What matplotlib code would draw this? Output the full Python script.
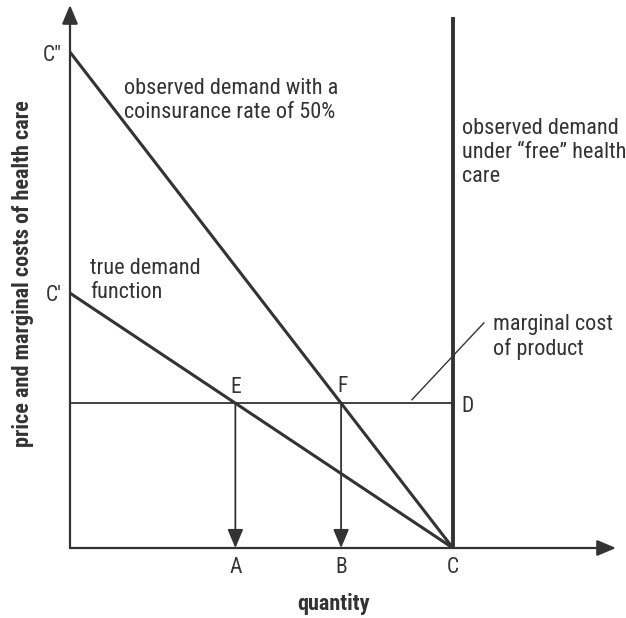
import matplotlib.pyplot as plt

plt.rcParams['font.family'] = ['Roboto Condensed', 'Archivo Narrow', 'Roboto', 'DejaVu Sans']

# price intercepts of the demand curves and the marginal cost level
p_true = 5.14        # C'
p_coins = 10.0       # C''
mc = 2.92            # marginal cost of product
q_free = 10.0        # C, quantity under "free" health care
x_max = 14.26
y_max = 10.95

# intersections with the marginal cost line
q_e = q_free * (1 - mc / p_true)
q_f = q_free * (1 - mc / p_coins)

ink = '#333333'

fig = plt.figure(figsize=(6.26, 6.18), dpi=100)
ax = fig.add_axes([70 / 626, 70 / 618, 546 / 626, 543 / 618])
ax.set_xlim(0, x_max)
ax.set_ylim(0, y_max)
ax.axis('off')

# axes with arrow heads
head = '-|>,head_length=0.95,head_width=0.4'
arrow = dict(arrowstyle=head, color=ink, lw=1.6, shrinkA=0, shrinkB=0, mutation_scale=12)
ax.annotate('', xy=(x_max, 0), xytext=(0, 0), arrowprops=arrow)
ax.annotate('', xy=(0, y_max), xytext=(0, 0), arrowprops=arrow)

# demand curves
ax.plot([0, q_free], [p_true, 0], color=ink, lw=2.2, solid_capstyle='butt')
ax.plot([0, q_free], [p_coins, 0], color=ink, lw=2.2, solid_capstyle='butt')
ax.plot([q_free, q_free], [0, 10.7], color=ink, lw=2.8, solid_capstyle='butt')

# marginal cost line
ax.plot([0, q_free], [mc, mc], color=ink, lw=1.3)

# drop arrows from E and F
arrow2 = dict(arrowstyle=head, color=ink, lw=1.3, shrinkA=0, shrinkB=0, mutation_scale=12)
ax.annotate('', xy=(q_e, 0), xytext=(q_e, mc), arrowprops=arrow2)
ax.annotate('', xy=(q_f, 0), xytext=(q_f, mc), arrowprops=arrow2)

# leader line for marginal cost label
ax.plot([8.93, 10.81], [2.99, 4.54], color=ink, lw=1.0)

fs = 15.5
ax.text(-0.21, p_coins - 0.07, 'C\u2033', ha='right', va='center', fontsize=fs, color=ink)
ax.text(-0.21, p_true - 0.05, 'C\u2032', ha='right', va='center', fontsize=fs, color=ink)
ax.text(q_e, 3.23, 'E', ha='center', va='center', fontsize=fs, color=ink)
ax.text(q_f + 0.05, 3.25, 'F', ha='center', va='center', fontsize=fs, color=ink)
ax.text(10.37, 2.86, 'D', ha='center', va='center', fontsize=fs, color=ink)
for q, lab in [(q_e, 'A'), (q_f, 'B'), (q_free, 'C')]:
    ax.text(q, -0.4, lab, ha='center', va='center', fontsize=fs, color=ink)

# multi-line labels, anchored at the baseline of their last line
fs2 = 16
ax.text(1.41, 8.67, 'observed demand with a\ncoinsurance rate of 50%', ha='left', va='baseline',
        fontsize=fs2, color=ink, linespacing=1.2)
ax.text(0.52, 5.04, 'true demand\nfunction', ha='left', va='baseline',
        fontsize=fs2, color=ink, linespacing=1.2)
ax.text(10.24, 7.38, 'observed demand\nunder \u201cfree\u201d health\ncare', ha='left', va='baseline',
        fontsize=fs2, color=ink, linespacing=1.2)
ax.text(11.04, 3.89, 'marginal cost\nof product', ha='left', va='baseline',
        fontsize=fs2, color=ink, linespacing=1.2)

ax.text(6.88, -1.13, 'quantity', ha='center', va='center', fontsize=16, fontweight='bold', color=ink)
ax.text(-1.24, 5.53, 'price and marginal costs of health care', ha='center', va='center',
        rotation=90, fontsize=16, fontweight='bold', color=ink)

fig.savefig('out.png', dpi=100)
